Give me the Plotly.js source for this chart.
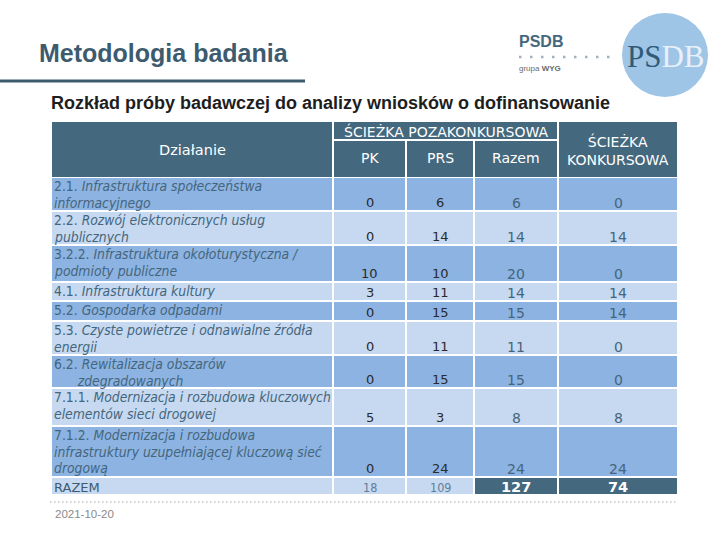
<!DOCTYPE html>
<html>
<head>
<meta charset="utf-8">
<script src="https://cdn.plot.ly/plotly-3.0.1.min.js"></script>
<style>html,body{margin:0;padding:0;background:#fff;}#chart{width:720px;height:540px;}</style>
</head>
<body>
<div id="chart"></div>
<script>
// ---- data ----
const codes = ["2.1.", "2.2.", "3.2.2.", "4.1.", "5.2.", "5.3.", "6.2.", "7.1.1.", "7.1.2."];
const names = [
  "Infrastruktura społeczeństwa<br>informacyjnego",
  "Rozwój elektronicznych usług<br>publicznych",
  "Infrastruktura okołoturystyczna /<br>podmioty publiczne",
  "Infrastruktura kultury",
  "Gospodarka odpadami",
  "Czyste powietrze i odnawialne źródła<br>energii",
  "Rewitalizacja obszarów<br>      zdegradowanych",
  "Modernizacja i rozbudowa kluczowych<br>elementów sieci drogowej",
  "Modernizacja i rozbudowa<br>infrastruktury uzupełniającej kluczową sieć<br>drogową"
];
const pk      = [0, 0, 10, 3, 0, 0, 0, 5, 0];
const prs     = [6, 14, 10, 11, 15, 11, 15, 3, 24];
const razem   = [6, 14, 20, 14, 15, 11, 15, 8, 24];
const konkurs = [0, 14, 0, 14, 14, 0, 0, 8, 24];
const totalLabel = "RAZEM";
const totals = {pk: 18, prs: 109, razem: 127, konkurs: 74};
const headerGroup = "ŚCIEŻKA POZAKONKURSOWA";
const headerSub = ["PK", "PRS", "Razem"];
const headerKonk = "ŚCIEŻKA<br>KONKURSOWA";
const headerFirst = "Działanie";
const title = "Metodologia badania";
const subtitle = "Rozkład próby badawczej do analizy wniosków o dofinansowanie";
const dateText = "2021-10-20";

// ---- layout geometry (styles) ----
const colX = [[52, 332], [334, 405], [407, 473], [475, 557], [559, 677]];
const rowTop = [178, 212, 246, 283, 302, 322, 356, 389, 427, 478];
const rowBot = [210, 244, 281, 300, 320, 354, 387, 425, 476, 494];
const DARK = "#44687d", MID = "#8db3e2", LIGHT = "#c6d9f1", SLATE = "#3d5b6e";
const FONT = "DejaVu Sans Condensed, DejaVu Sans, sans-serif";
const HFONT = "DejaVu Sans, sans-serif";
const LINE_H = 16.5;

const shapes = [], ann = [];
function rect(x0, x1, y0, y1, color) {
  shapes.push({type: "rect", xref: "x", yref: "y", x0, x1, y0, y1, fillcolor: color, line: {width: 0}, layer: "below"});
}
function text(x, y, t, opts) {
  ann.push(Object.assign({x, y, xref: "x", yref: "y", text: t, showarrow: false,
    xanchor: "center", yanchor: "middle", font: {family: FONT, size: 12, color: "#222"}}, opts));
}

// title & rule
text(37, 53, "<b>" + title + "</b>", {xanchor: "left", font: {family: "Liberation Sans, Arial", size: 25, color: SLATE}});
shapes.push({type: "line", x0: 0, x1: 305, y0: 81, y1: 81, line: {color: SLATE, width: 3}});
text(49, 103, "<b>" + subtitle + "</b>", {xanchor: "left", font: {family: "Liberation Sans, Arial", size: 18, color: "#1e1e1e"}});

// logo
text(517, 41, "<b>PSDB</b>", {xanchor: "left", font: {family: "Liberation Sans, Arial", size: 16, color: "#44687d"}});
shapes.push({type: "line", x0: 519, x1: 616, y0: 57, y1: 57, line: {color: "#9fb0c0", width: 2.5, dash: "2.5px,8.5px"}});
text(517, 68, "grupa <b>WYG</b>", {xanchor: "left", font: {family: "Liberation Sans, Arial", size: 8, color: "#6b6b6b"}});
shapes.push({type: "circle", x0: 622, x1: 708, y0: 13, y1: 97, fillcolor: "#9ec4e6", line: {width: 0}});
text(666, 56, "<span style='color:#2f5a78'>PS</span><span style='color:#e8f1fa'>DB</span>",
  {font: {family: "Liberation Serif, DejaVu Serif, serif", size: 31, color: "#2f5a78"}});

// header
rect(colX[0][0], colX[0][1], 122, 177, DARK);
rect(colX[1][0], colX[3][1], 122, 139, DARK);
for (let c = 1; c <= 3; c++) rect(colX[c][0], colX[c][1], 141, 177, DARK);
rect(colX[4][0], colX[4][1], 122, 177, DARK);
text((colX[0][0] + colX[0][1]) / 2, 150, headerFirst, {font: {family: HFONT, size: 14.5, color: "#fff"}});
text((colX[1][0] + colX[3][1]) / 2, 131, headerGroup, {font: {family: HFONT, size: 14, color: "#fff"}});
headerSub.forEach((h, i) => text((colX[i + 1][0] + colX[i + 1][1]) / 2, 158, h, {font: {family: HFONT, size: 14, color: "#fff"}}));
text((colX[4][0] + colX[4][1]) / 2, 150, headerKonk, {font: {family: HFONT, size: 14, color: "#fff"}});

// body rows
const cols = [pk, prs, razem, konkurs];
codes.forEach((code, r) => {
  const bg = r % 2 === 0 ? MID : LIGHT;
  for (let c = 0; c < 5; c++) rect(colX[c][0], colX[c][1], rowTop[r], rowBot[r], bg);
  names[r].split("<br>").forEach((line, i) => {
    const t = (i === 0 ? code + " " : "") + "<i>" + line + "</i>";
    text(52, rowTop[r] + 8 + i * LINE_H, t,
      {xanchor: "left", align: "left", font: {family: FONT, size: 13.8, color: "#44667c"}});
  });
  cols.forEach((arr, k) => {
    const big = k >= 2;
    text((colX[k + 1][0] + colX[k + 1][1]) / 2, rowBot[r] - 7.5, String(arr[r]),
      {font: {family: HFONT, size: big ? 14 : 13, color: big ? "#44667c" : "#2a2a2a"}});
  });
});

// total row
const tr = rowTop.length - 1;
rect(colX[0][0], colX[0][1], rowTop[tr], rowBot[tr], LIGHT);
rect(colX[1][0], colX[1][1], rowTop[tr], rowBot[tr], LIGHT);
rect(colX[2][0], colX[2][1], rowTop[tr], rowBot[tr], LIGHT);
rect(colX[3][0], colX[3][1], rowTop[tr], rowBot[tr], DARK);
rect(colX[4][0], colX[4][1], rowTop[tr], rowBot[tr], DARK);
const ty = (rowTop[tr] + rowBot[tr]) / 2 + 1;
text(52, ty, totalLabel, {xanchor: "left", font: {family: HFONT, size: 13, color: SLATE}});
text((colX[1][0] + colX[1][1]) / 2, ty, String(totals.pk), {font: {family: FONT, size: 12.5, color: "#5f7f98"}});
text((colX[2][0] + colX[2][1]) / 2, ty, String(totals.prs), {font: {family: FONT, size: 12.5, color: "#5f7f98"}});
text((colX[3][0] + colX[3][1]) / 2, ty, "<b>" + totals.razem + "</b>", {font: {family: HFONT, size: 14.5, color: "#fff"}});
text((colX[4][0] + colX[4][1]) / 2, ty, "<b>" + totals.konkurs + "</b>", {font: {family: HFONT, size: 14.5, color: "#fff"}});

// footer
shapes.push({type: "line", x0: 50, x1: 678, y0: 502, y1: 502, line: {color: "#a8a8a8", width: 1.2, dash: "1.5px,2.5px"}});
text(53, 514, dateText, {xanchor: "left", font: {family: "Liberation Sans, Arial", size: 11.5, color: "#8a8a8a"}});

const layout = {
  width: 720, height: 540,
  margin: {l: 0, r: 0, t: 0, b: 0},
  paper_bgcolor: "#fff", plot_bgcolor: "#fff",
  xaxis: {range: [0, 720], visible: false, fixedrange: true},
  yaxis: {range: [540, 0], visible: false, fixedrange: true},
  shapes, annotations: ann, showlegend: false
};
Plotly.newPlot("chart", [{x: [], y: [], type: "scatter"}], layout, {staticPlot: true});
</script>
</body>
</html>
